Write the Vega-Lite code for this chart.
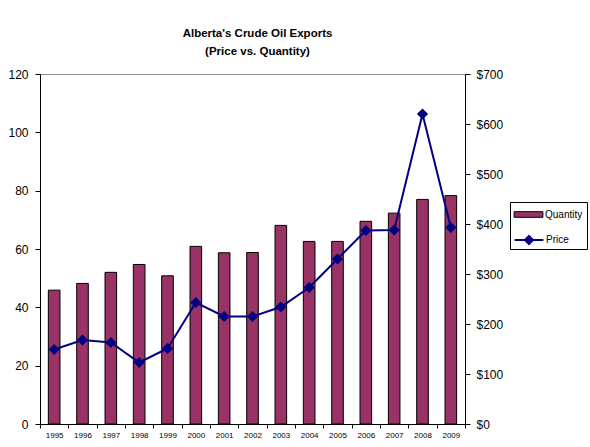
{
  "$schema": "https://vega.github.io/schema/vega-lite/v6.json",
  "autosize": "none",
  "width": 425,
  "height": 350,
  "padding": {"left": 40, "top": 74, "right": 125, "bottom": 23},
  "background": "white",
  "title": {
    "text": ["Alberta's Crude Oil Exports", "(Price vs. Quantity)"],
    "font": "Liberation Sans",
    "fontSize": 11.5,
    "fontWeight": "bold",
    "color": "black",
    "anchor": "middle",
    "dx": 5,
    "offset": 11,
    "lineHeight": 18
  },
  "config": {
    "font": "Liberation Sans",
    "view": {"stroke": "#8c8c8c", "strokeWidth": 1},
    "axis": {"grid": false, "domainColor": "black", "tickColor": "black", "labelColor": "black", "labelFont": "Liberation Sans"},
    "legend": {"labelFont": "Liberation Sans", "labelFontSize": 10, "labelColor": "black", "padding": 4, "symbolSize": 256, "symbolOffset": 6, "labelOffset": 8, "orient": "none"}
  },
  "data": {
    "values": [
      {"year": "1995", "quantity": 45.9, "price": 149},
      {"year": "1996", "quantity": 48.2, "price": 168},
      {"year": "1997", "quantity": 52.0, "price": 163},
      {"year": "1998", "quantity": 54.7, "price": 123},
      {"year": "1999", "quantity": 50.8, "price": 151},
      {"year": "2000", "quantity": 60.9, "price": 243},
      {"year": "2001", "quantity": 58.7, "price": 215},
      {"year": "2002", "quantity": 58.8, "price": 215},
      {"year": "2003", "quantity": 68.1, "price": 234},
      {"year": "2004", "quantity": 62.6, "price": 273},
      {"year": "2005", "quantity": 62.6, "price": 330},
      {"year": "2006", "quantity": 69.5, "price": 387},
      {"year": "2007", "quantity": 72.3, "price": 388},
      {"year": "2008", "quantity": 77.0, "price": 620},
      {"year": "2009", "quantity": 78.3, "price": 393}
    ]
  },
  "encoding": {
    "x": {
      "field": "year",
      "type": "ordinal",
      "scale": {"paddingInner": 0, "paddingOuter": 0},
      "axis": {"title": null, "labelAngle": 0, "labelFontSize": 8, "tickBand": "extent", "tickSize": 4, "labelPadding": 3}
    }
  },
  "layer": [
    {
      "mark": {"type": "bar", "width": {"band": 0.41}, "stroke": "black", "strokeWidth": 1},
      "encoding": {
        "y": {
          "field": "quantity",
          "type": "quantitative",
          "scale": {"domain": [0, 120], "nice": false},
          "axis": {"title": null, "values": [0, 20, 40, 60, 80, 100, 120], "labelFontSize": 12, "tickSize": 5, "labelPadding": 7}
        },
        "fill": {
          "datum": "Quantity",
          "scale": {"domain": ["Quantity"], "range": ["#993366"]},
          "legend": {
            "title": " ",
            "titleOrient": "bottom",
            "titleFontSize": 16,
            "titlePadding": 9,
            "legendX": 470,
            "legendY": 128,
            "strokeColor": "black",
            "symbolType": "M-1.8,-0.35H1.8V0.35H-1.8Z",
            "symbolStrokeColor": "black",
            "symbolStrokeWidth": 1
          }
        }
      }
    },
    {
      "mark": {"type": "line", "strokeWidth": 2, "point": {"shape": "diamond", "size": 70, "filled": true, "fill": "#000080", "opacity": 1}},
      "encoding": {
        "y": {
          "field": "price",
          "type": "quantitative",
          "scale": {"domain": [0, 700], "nice": false},
          "axis": {"title": null, "orient": "right", "values": [0, 100, 200, 300, 400, 500, 600, 700], "format": "$.0f", "labelFontSize": 12, "tickSize": 5, "labelPadding": 6}
        },
        "stroke": {
          "datum": "Price",
          "scale": {"domain": ["Price"], "range": ["#000080"]},
          "legend": {
            "title": null,
            "legendX": 470,
            "legendY": 153,
            "symbolType": "M-1.8,0H1.8M0,-0.5L0.5,0L0,0.5L-0.5,0Z",
            "symbolFillColor": "#000080",
            "symbolStrokeWidth": 2
          }
        }
      }
    }
  ],
  "resolve": {"scale": {"y": "independent"}}
}
